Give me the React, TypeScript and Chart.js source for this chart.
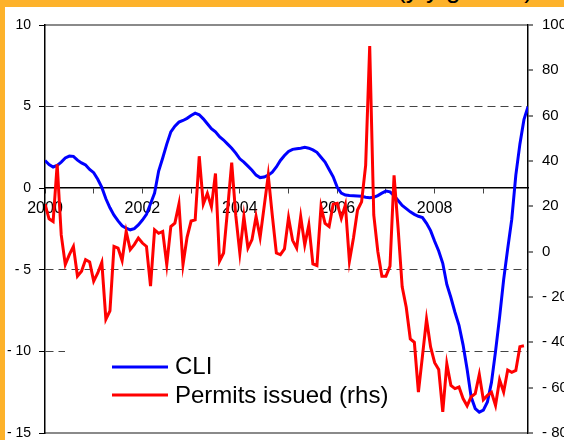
import React, { useEffect, useRef } from "react";
import { Chart, registerables } from "chart.js";

Chart.register(...registerables);

const START_YEAR = 2000;

// CLI, monthly Jan 2000 .. Dec 2009 (left axis)
const cliValues: number[] = [
  1.7, 1.45, 1.3, 1.4, 1.6, 1.85, 1.97, 1.95, 1.72, 1.55, 1.42, 1.15,
  0.95, 0.55, 0.05, -0.65, -1.2, -1.65, -2.0, -2.3, -2.45, -2.55, -2.48, -2.25,
  -1.95, -1.6, -0.95, -0.3, 1.05, 1.85, 2.7, 3.45, 3.8, 4.05, 4.15, 4.28,
  4.45, 4.6, 4.5, 4.25, 3.95, 3.65, 3.45, 3.15, 2.95, 2.7, 2.45, 2.15,
  1.8, 1.6, 1.35, 1.1, 0.8, 0.65, 0.68, 0.8, 0.98, 1.3, 1.7, 2.0,
  2.25, 2.38, 2.42, 2.45, 2.5, 2.45, 2.35, 2.2, 1.9, 1.6, 1.15, 0.7,
  0.05, -0.3, -0.42, -0.45, -0.46, -0.48, -0.5, -0.55, -0.58, -0.55, -0.45, -0.3,
  -0.18, -0.22, -0.45, -0.75, -1.05, -1.25, -1.45, -1.6, -1.72, -1.8, -2.15, -2.6,
  -3.25, -3.85, -4.6, -5.9, -6.7, -7.6, -8.4, -9.6, -11.1, -12.8, -13.5, -13.72,
  -13.6, -13.1, -11.9, -10.0, -7.9, -5.6, -3.7, -1.9, 0.8, 2.7, 4.2, 5.0,
];

// Permits issued, monthly Jan 2000 .. Dec 2009 (right axis)
const permitValues: (number | null)[] = [
  21, 14.5, 13.3, 38.5, 7.4, -5.7, -1.3, 2.3, -10.8, -8.6, -3.5, -4.5,
  -13, -9.4, -4.7, -29.8, -26.1, 2.3, 1.6, -3.9, 8.9, 0.9, 3.1, 6.0,
  3.8, 2.3, -15.2, 9.6, 8.1, 8.9, -5.7, 11.1, 12.6, 21, -5.7, 6.3,
  13.5, 14, 42.1, 21, 25.7, 19.8, 34.5, -4.2, -0.6, 19, 39.3, 16,
  -0.6, 15.5, 1.6, 5.3, 15.5, 6.3, 20, 33.7, 16, -0.6, -1.3, 1.2,
  15, 5, 1.6, 15.5, 3, 11.8, -5.4, -6.1, 19.8, 12.5, 11.1, 20.9,
  21.3, 14.7, 20.6, -4.2, 6, 18.4, 22, 38.1, 90.7, 16.2, 0.1, -10.8,
  -10.8, -6.4, 33.7, 10.3, -15.5, -24.5, -38.5, -40, -62, -46, -29.8, -42,
  -49, -52, -70.7, -49.5, -59, -60.4, -59.7, -64.8, -68, -64, -62.6, -54.2,
  -65.3, -63.4, -62, -67.8, -56.5, -61.9, -52.2, -53.2, -52.4, -41.9, -41.5, null,
];

const seriesLabels = ["CLI", "Permits issued (rhs)"];
const seriesColors = ["#0000FF", "#FF0000"];
const titleText = "(y/y growth)";
const dashedLeftTicks = [5, -5, -10];
const borderRightTicks = [100, -80];

const FONT = '"Liberation Sans", Arial, sans-serif';
const ORANGE = "#FDB22B";

function fmt(v: number | string) {
  const n = Number(v);
  return n < 0 ? "- " + Math.abs(n) : String(n);
}

const insetLegend = {
  id: "insetLegend",
  afterDatasetsDraw(chart: any) {
    const { ctx, chartArea } = chart;
    const left = chartArea.left;
    const bottom = chartArea.bottom;
    ctx.save();
    ctx.fillStyle = "#ffffff";
    ctx.fillRect(left + 20, bottom - 91, 340, 78);
    const rows = [
      { lineY: bottom - 66, baseY: bottom - 59 },
      { lineY: bottom - 38, baseY: bottom - 30 },
    ];
    chart.data.datasets.forEach((ds: any, i: number) => {
      const r = rows[i];
      ctx.strokeStyle = ds.borderColor;
      ctx.lineWidth = 3;
      ctx.beginPath();
      ctx.moveTo(left + 67, r.lineY);
      ctx.lineTo(left + 123, r.lineY);
      ctx.stroke();
      ctx.fillStyle = "#000";
      ctx.font = `24px ${FONT}`;
      ctx.textBaseline = "alphabetic";
      ctx.textAlign = "left";
      ctx.fillText(ds.label, left + 130, r.baseY);
    });
    ctx.restore();
  },
};

export default function App() {
  const ref = useRef<HTMLCanvasElement>(null);
  useEffect(() => {
    const canvas = ref.current!;
    const toPoints = (arr: (number | null)[]) => arr.map((v, i) => ({ x: i, y: v }));
    const chart = new Chart(canvas, {
      type: "line",
      data: {
        datasets: [
          {
            label: seriesLabels[0],
            data: toPoints(cliValues) as any,
            borderColor: seriesColors[0],
            backgroundColor: seriesColors[0],
            borderWidth: 3,
            pointRadius: 0,
            tension: 0,
            yAxisID: "y",
            order: 1,
          },
          {
            label: seriesLabels[1],
            data: toPoints(permitValues) as any,
            borderColor: seriesColors[1],
            backgroundColor: seriesColors[1],
            borderWidth: 3,
            pointRadius: 0,
            tension: 0,
            yAxisID: "y2",
            order: 0,
          },
        ],
      },
      options: {
        animation: false,
        responsive: false,
        devicePixelRatio: 1,
        layout: { padding: { top: 15, bottom: 34, left: 0, right: 0 } },
        plugins: {
          legend: { display: false },
          tooltip: { enabled: false },
          title: { display: false },
        },
        scales: {
          x: {
            type: "linear",
            min: 0,
            max: cliValues.length - 1,
            position: { y: 0 } as any,
            grid: { drawOnChartArea: false, tickLength: 5, tickColor: "#444", tickWidth: 1 },
            border: { color: "#000", width: 1.5 },
            ticks: {
              stepSize: 12,
              includeBounds: false,
              autoSkip: false,
              maxRotation: 0,
              padding: 6,
              color: "#000",
              font: { family: FONT, size: 16 },
              callback: (v: any) => (Number(v) % 24 === 0 ? String(START_YEAR + Number(v) / 12) : ""),
            },
          },
          y: {
            position: "left",
            min: -15,
            max: 10,
            afterFit: (s: any) => {
              s.width = 40;
            },
            grid: {
              color: (c: any) =>
                c.tick && dashedLeftTicks.includes(c.tick.value) ? "#444" : "rgba(0,0,0,0)",
              lineWidth: 1,
              tickColor: "#000",
              tickWidth: 1,
              tickLength: 6,
            },
            border: { color: "#000", width: 1.5, dash: [8, 5] },
            ticks: {
              stepSize: 5,
              padding: 8,
              color: "#000",
              font: { family: FONT, size: 14 },
              callback: fmt,
            },
          },
          y2: {
            position: "right",
            min: -80,
            max: 100,
            afterFit: (s: any) => {
              s.width = 77;
            },
            grid: {
              color: (c: any) =>
                c.tick && borderRightTicks.includes(c.tick.value) ? "#8a8a8a" : "rgba(0,0,0,0)",
              lineWidth: 2,
              tickColor: "#000",
              tickWidth: 1,
              tickLength: 5,
            },
            border: { color: "#000", width: 1.5 },
            ticks: {
              stepSize: 20,
              padding: 9,
              color: "#000",
              font: { family: FONT, size: 15 },
              callback: fmt,
            },
          },
        },
      } as any,
      plugins: [insetLegend],
    });
    return () => chart.destroy();
  }, []);

  return (
    <div
      style={{
        position: "fixed",
        left: 0,
        top: 0,
        width: 564,
        height: 440,
        overflow: "hidden",
        background: ORANGE,
      }}
    >
      <div
        style={{
          position: "absolute",
          left: 397,
          top: -24,
          font: `26px ${FONT}`,
          lineHeight: "26px",
          whiteSpace: "nowrap",
          color: "#000",
        }}
      >
        {titleText}
      </div>
      <div
        style={{
          position: "absolute",
          left: 5,
          top: 7,
          width: 600,
          height: 460,
          background: "#fff",
        }}
      >
        <canvas ref={ref} width={600} height={460} style={{ display: "block" }} />
      </div>
    </div>
  );
}
